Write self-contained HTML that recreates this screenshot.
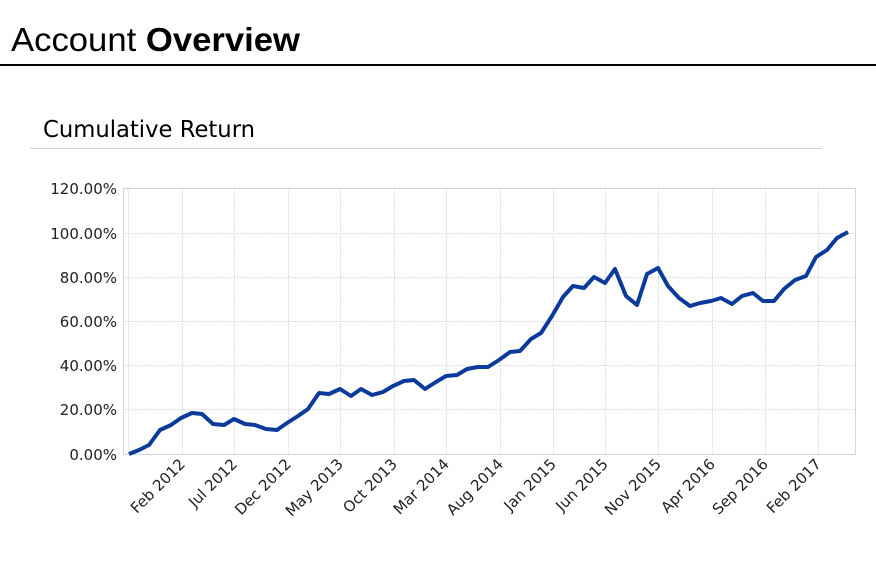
<!DOCTYPE html>
<html><head><meta charset="utf-8"><style>
body{margin:0;width:876px;height:560px;background:#fff;overflow:hidden;font-family:"Liberation Sans",sans-serif}
</style></head><body>
<svg width="876" height="560" xmlns="http://www.w3.org/2000/svg">
<text x="11" y="51" font-family="Liberation Sans, sans-serif" font-size="33" fill="#000" textLength="289" lengthAdjust="spacingAndGlyphs">Account <tspan font-weight="bold">Overview</tspan></text>
<rect x="0" y="64" width="876" height="2" fill="#000"/>
<text x="43" y="137" font-family="DejaVu Sans, sans-serif" font-size="23" fill="#000" textLength="212" lengthAdjust="spacingAndGlyphs">Cumulative Return</text>
<rect x="30" y="148" width="792" height="1" fill="#d0d0d0"/>
<g stroke="#dde0e5" stroke-width="1" stroke-dasharray="2,1" fill="none">
<line x1="123" y1="233.5" x2="856" y2="233.5"/>
<line x1="123" y1="277.5" x2="856" y2="277.5"/>
<line x1="123" y1="321.5" x2="856" y2="321.5"/>
<line x1="123" y1="365.5" x2="856" y2="365.5"/>
<line x1="123" y1="409.5" x2="856" y2="409.5"/>
<line x1="128.5" y1="188" x2="128.5" y2="454"/>
<line x1="182.5" y1="188" x2="182.5" y2="454"/>
<line x1="234.5" y1="188" x2="234.5" y2="454"/>
<line x1="288.5" y1="188" x2="288.5" y2="454"/>
<line x1="340.5" y1="188" x2="340.5" y2="454"/>
<line x1="394.5" y1="188" x2="394.5" y2="454"/>
<line x1="446.5" y1="188" x2="446.5" y2="454"/>
<line x1="500.5" y1="188" x2="500.5" y2="454"/>
<line x1="553.5" y1="188" x2="553.5" y2="454"/>
<line x1="605.5" y1="188" x2="605.5" y2="454"/>
<line x1="658.5" y1="188" x2="658.5" y2="454"/>
<line x1="712.5" y1="188" x2="712.5" y2="454"/>
<line x1="765.5" y1="188" x2="765.5" y2="454"/>
<line x1="818.5" y1="188" x2="818.5" y2="454"/>
</g>
<rect x="123.5" y="188.5" width="732" height="266" fill="none" stroke="#d3d6dc" stroke-width="1"/>
<g font-family="DejaVu Sans, sans-serif" font-size="15" fill="#222" text-anchor="end">
<text x="117" y="194">120.00%</text>
<text x="117" y="239">100.00%</text>
<text x="117" y="283">80.00%</text>
<text x="117" y="327">60.00%</text>
<text x="117" y="371">40.00%</text>
<text x="117" y="415">20.00%</text>
<text x="117" y="460">0.00%</text>
</g>
<g font-family="DejaVu Sans, sans-serif" font-size="15" fill="#222" text-anchor="end">
<text transform="translate(186,465) rotate(-45)">Feb 2012</text>
<text transform="translate(238,465) rotate(-45)">Jul 2012</text>
<text transform="translate(292,465) rotate(-45)">Dec 2012</text>
<text transform="translate(344,465) rotate(-45)">May 2013</text>
<text transform="translate(398,465) rotate(-45)">Oct 2013</text>
<text transform="translate(450,465) rotate(-45)">Mar 2014</text>
<text transform="translate(504,465) rotate(-45)">Aug 2014</text>
<text transform="translate(557,465) rotate(-45)">Jan 2015</text>
<text transform="translate(609,465) rotate(-45)">Jun 2015</text>
<text transform="translate(662,465) rotate(-45)">Nov 2015</text>
<text transform="translate(716,465) rotate(-45)">Apr 2016</text>
<text transform="translate(769,465) rotate(-45)">Sep 2016</text>
<text transform="translate(822,465) rotate(-45)">Feb 2017</text>
</g>
<polyline fill="none" stroke="#0a3a9a" stroke-width="4" stroke-linejoin="round" points="129,454 139,450 149,445 160,430 171,425 181,418 192,413 202,414 213,424 224,425 234,419 245,424 255,425 266,429 277,430 287,423 298,416 308,409 319,393 329,394 340,389 351,396 361,389 372,395 383,392 393,386 404,381 414,380 425,389 436,382 446,376 457,375 467,369 478,367 488,367 499,360 510,352 520,351 531,339 541,333 552,316 563,297 573,286 584,288 594,277 605,283 615,269 626,296 637,305 647,274 658,268 668,286 679,298 690,306 700,303 711,301 721,298 732,304 742,296 753,293 763,301 774,301 784,289 795,280 806,276 816,257 827,250 837,238 848,232"/>
</svg>
</body></html>
